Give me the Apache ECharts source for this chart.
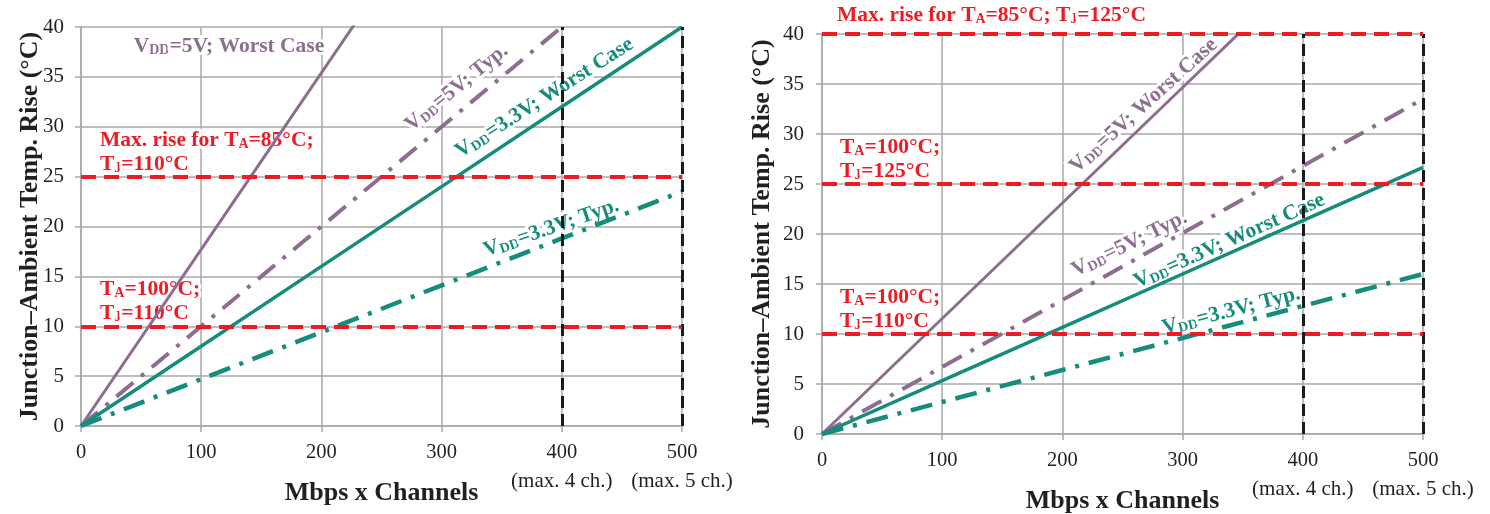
<!DOCTYPE html>
<html><head><meta charset="utf-8">
<script src="https://cdn.jsdelivr.net/npm/echarts@6/dist/echarts.min.js"></script>
<style>html,body{margin:0;padding:0;background:#fff}#c{width:1490px;height:514px}</style>
</head><body><div id="c"></div>
<script>
// ---------- data ----------
const xValues = [0, 100, 200, 300, 400, 500];
const xTickLabels = ['0', '100', '200', '300', '400', '500'];
const xTickNotes = ['', '', '', '', '(max. 4 ch.)', '(max. 5 ch.)'];

// left chart (T_J = 110°C)
const leftWorst5V  = [0, 17.7, 35.4, 53.1, 70.8, 88.5];
const leftTyp5V    = [0, 10, 20, 30, 40, 50];
const leftWorst33V = [0, 8, 16, 24, 32, 40];
const leftTyp33V   = [0, 4.7, 9.4, 14.1, 18.8, 23.5];
const leftLimits   = [25, 10];

// right chart (T_J = 125°C)
const rightWorst5V  = [0, 11.55, 23.1, 34.65, 46.2, 57.75];
const rightTyp5V    = [0, 6.7, 13.4, 20.1, 26.8, 33.5];
const rightWorst33V = [0, 5.33, 10.67, 16, 21.33, 26.67];
const rightTyp33V   = [0, 3.2, 6.4, 9.6, 12.8, 16];
const rightLimits   = [40, 25, 10];

const channelLimits = [400, 500];

// ---------- styles ----------
const FONT = "'Liberation Serif', 'Times New Roman', serif";
const PURPLE = '#8d6e91';
const TEAL = '#168c7d';
const RED = '#ed1c24';
const BLACK = '#1a1a1a';
const GRID = '#a9a9a9';
const TEXT = '#231f20';
const DASHDOT = [22, 10, 4, 10];

const pairs = (ys) => xValues.map((x, i) => [x, ys[i]]);

function xAxisCfg(idx, nameGap) {
  return {
    type: 'value', gridIndex: idx, min: 0, max: 500, interval: 100,
    name: 'Mbps x Channels', nameLocation: 'middle', nameGap: nameGap, nameMoveOverlap: false,
    nameTextStyle: { fontFamily: FONT, fontWeight: 'bold', fontSize: 26, color: TEXT },
    axisLine: { show: true, lineStyle: { color: GRID, width: 1.5 } },
    axisTick: { show: true, length: 6, lineStyle: { color: GRID, width: 1.5 } },
    splitLine: { show: true, lineStyle: { color: GRID, width: 1.5 } },
    axisLabel: {
      margin: 13,
      formatter: (v) => {
        const i = xValues.indexOf(v);
        const note = xTickNotes[i];
        return '{n|' + xTickLabels[i] + '}' + (note ? '\n{c|' + note + '}' : '');
      },
      rich: {
        n: { fontFamily: FONT, fontSize: 20.5, color: TEXT, lineHeight: 28 },
        c: { fontFamily: FONT, fontSize: 21, color: TEXT, lineHeight: 28 }
      }
    }
  };
}
function yAxisCfg(idx, nameGap, margin) {
  return {
    type: 'value', gridIndex: idx, min: 0, max: 40, interval: 5,
    name: 'Junction\u2013Ambient Temp. Rise (\u00b0C)', nameLocation: 'middle', nameGap: nameGap, nameMoveOverlap: false,
    nameTextStyle: { fontFamily: FONT, fontWeight: 'bold', fontSize: 26, color: TEXT },
    axisLine: { show: true, lineStyle: { color: GRID, width: 1.5 } },
    axisTick: { show: true, length: 6, lineStyle: { color: GRID, width: 1.5 } },
    splitLine: { show: true, lineStyle: { color: GRID, width: 1.5 } },
    axisLabel: { margin: margin, fontFamily: FONT, fontSize: 21, color: TEXT }
  };
}

function lineSeries(idx, name, ys, color, dashed, width) {
  return {
    type: 'line', name: name, xAxisIndex: idx, yAxisIndex: idx,
    data: pairs(ys), symbol: 'none', clip: true, z: 3,
    lineStyle: { color: color, width: width, type: dashed ? DASHDOT : 'solid', cap: 'butt' }
  };
}
function markSeries(idx, limits) {
  return [{
    type: 'line', xAxisIndex: idx, yAxisIndex: idx, data: [], z: 4,
    markLine: {
      silent: true, symbol: 'none', label: { show: false },
      lineStyle: { color: BLACK, width: 3, type: [12, 6] },
      data: channelLimits.map(v => ({ xAxis: v }))
    }
  }, {
    type: 'line', xAxisIndex: idx, yAxisIndex: idx, data: [], z: 5,
    markLine: {
      silent: true, symbol: 'none', label: { show: false },
      lineStyle: { color: RED, width: 4, type: [15, 8] },
      data: limits.map(v => ({ yAxis: v }))
    }
  }];
}

function rich(color) {
  const base = { fontFamily: FONT, fontWeight: 'bold', fill: color, stroke: '#fff', lineWidth: 6 };
  return {
    m: Object.assign({}, base, { fontSize: 21.5, lineHeight: 24, verticalAlign: 'bottom' }),
    s: Object.assign({}, base, { fontSize: 14, lineHeight: 8, verticalAlign: 'bottom' })
  };
}
const vdd = (volt, rest) => '{m|V}{s|DD}{m|=' + volt + '; ' + rest + '}';

function label(text, color, x, y, deg, align, vAlign) {
  return {
    type: 'text', x: x, y: y, rotation: (deg || 0) * Math.PI / 180, z: 1,
    style: {
      text: text, rich: rich(color), fill: color, stroke: '#fff', lineWidth: 6,
      font: 'bold 21.5px ' + FONT,
      align: align || 'center', verticalAlign: vAlign || 'middle'
    }
  };
}

const graphics = [
  // left chart
  label(vdd('5V', 'Worst Case'), PURPLE, 229, 45, 0),
  label(vdd('5V', 'Typ.'), PURPLE, 456, 87, 39),
  label(vdd('3.3V', 'Worst Case'), TEAL, 544, 97, 32.5),
  label(vdd('3.3V', 'Typ.'), TEAL, 551, 227, 19),
  label('{m|Max. rise for T}{s|A}{m|=85\u00b0C;}\n{m|T}{s|J}{m|=110\u00b0C}', RED, 100, 127, 0, 'left', 'top'),
  label('{m|T}{s|A}{m|=100\u00b0C;}\n{m|T}{s|J}{m|=110\u00b0C}', RED, 100, 276, 0, 'left', 'top'),
  // right chart
  label('{m|Max. rise for T}{s|A}{m|=85\u00b0C; T}{s|J}{m|=125\u00b0C}', RED, 837, 2, 0, 'left', 'top'),
  label('{m|T}{s|A}{m|=100\u00b0C;}\n{m|T}{s|J}{m|=125\u00b0C}', RED, 840, 134, 0, 'left', 'top'),
  label('{m|T}{s|A}{m|=100\u00b0C;}\n{m|T}{s|J}{m|=110\u00b0C}', RED, 840, 284, 0, 'left', 'top'),
  label(vdd('5V', 'Worst Case'), PURPLE, 1143, 105, 42),
  label(vdd('5V', 'Typ.'), PURPLE, 1129, 243, 26),
  label(vdd('3.3V', 'Worst Case'), TEAL, 1229, 240, 24),
  label(vdd('3.3V', 'Typ.'), TEAL, 1231, 310, 14.5)
];

const chart = echarts.init(document.getElementById('c'), null, { renderer: 'canvas' });
chart.setOption({
  animation: false,
  backgroundColor: '#fff',
  grid: [
    { left: 81, top: 27, width: 601, height: 399, containLabel: false, outerBoundsMode: 'none' },
    { left: 822, top: 34, width: 601, height: 400, containLabel: false, outerBoundsMode: 'none' }
  ],
  xAxis: [xAxisCfg(0, 54), xAxisCfg(1, 54)],
  yAxis: [yAxisCfg(0, 38, 17), yAxisCfg(1, 47, 18)],
  series: [
    lineSeries(0, 'VDD=5V; Worst Case', leftWorst5V, PURPLE, false, 3),
    lineSeries(0, 'VDD=5V; Typ.', leftTyp5V, PURPLE, true, 4),
    lineSeries(0, 'VDD=3.3V; Worst Case', leftWorst33V, TEAL, false, 3.5),
    lineSeries(0, 'VDD=3.3V; Typ.', leftTyp33V, TEAL, true, 4.5),
    ...markSeries(0, leftLimits),
    lineSeries(1, 'VDD=5V; Worst Case', rightWorst5V, PURPLE, false, 3),
    lineSeries(1, 'VDD=5V; Typ.', rightTyp5V, PURPLE, true, 4),
    lineSeries(1, 'VDD=3.3V; Worst Case', rightWorst33V, TEAL, false, 3.5),
    lineSeries(1, 'VDD=3.3V; Typ.', rightTyp33V, TEAL, true, 4.5),
    ...markSeries(1, rightLimits)
  ],
  graphic: graphics
});
</script></body></html>
